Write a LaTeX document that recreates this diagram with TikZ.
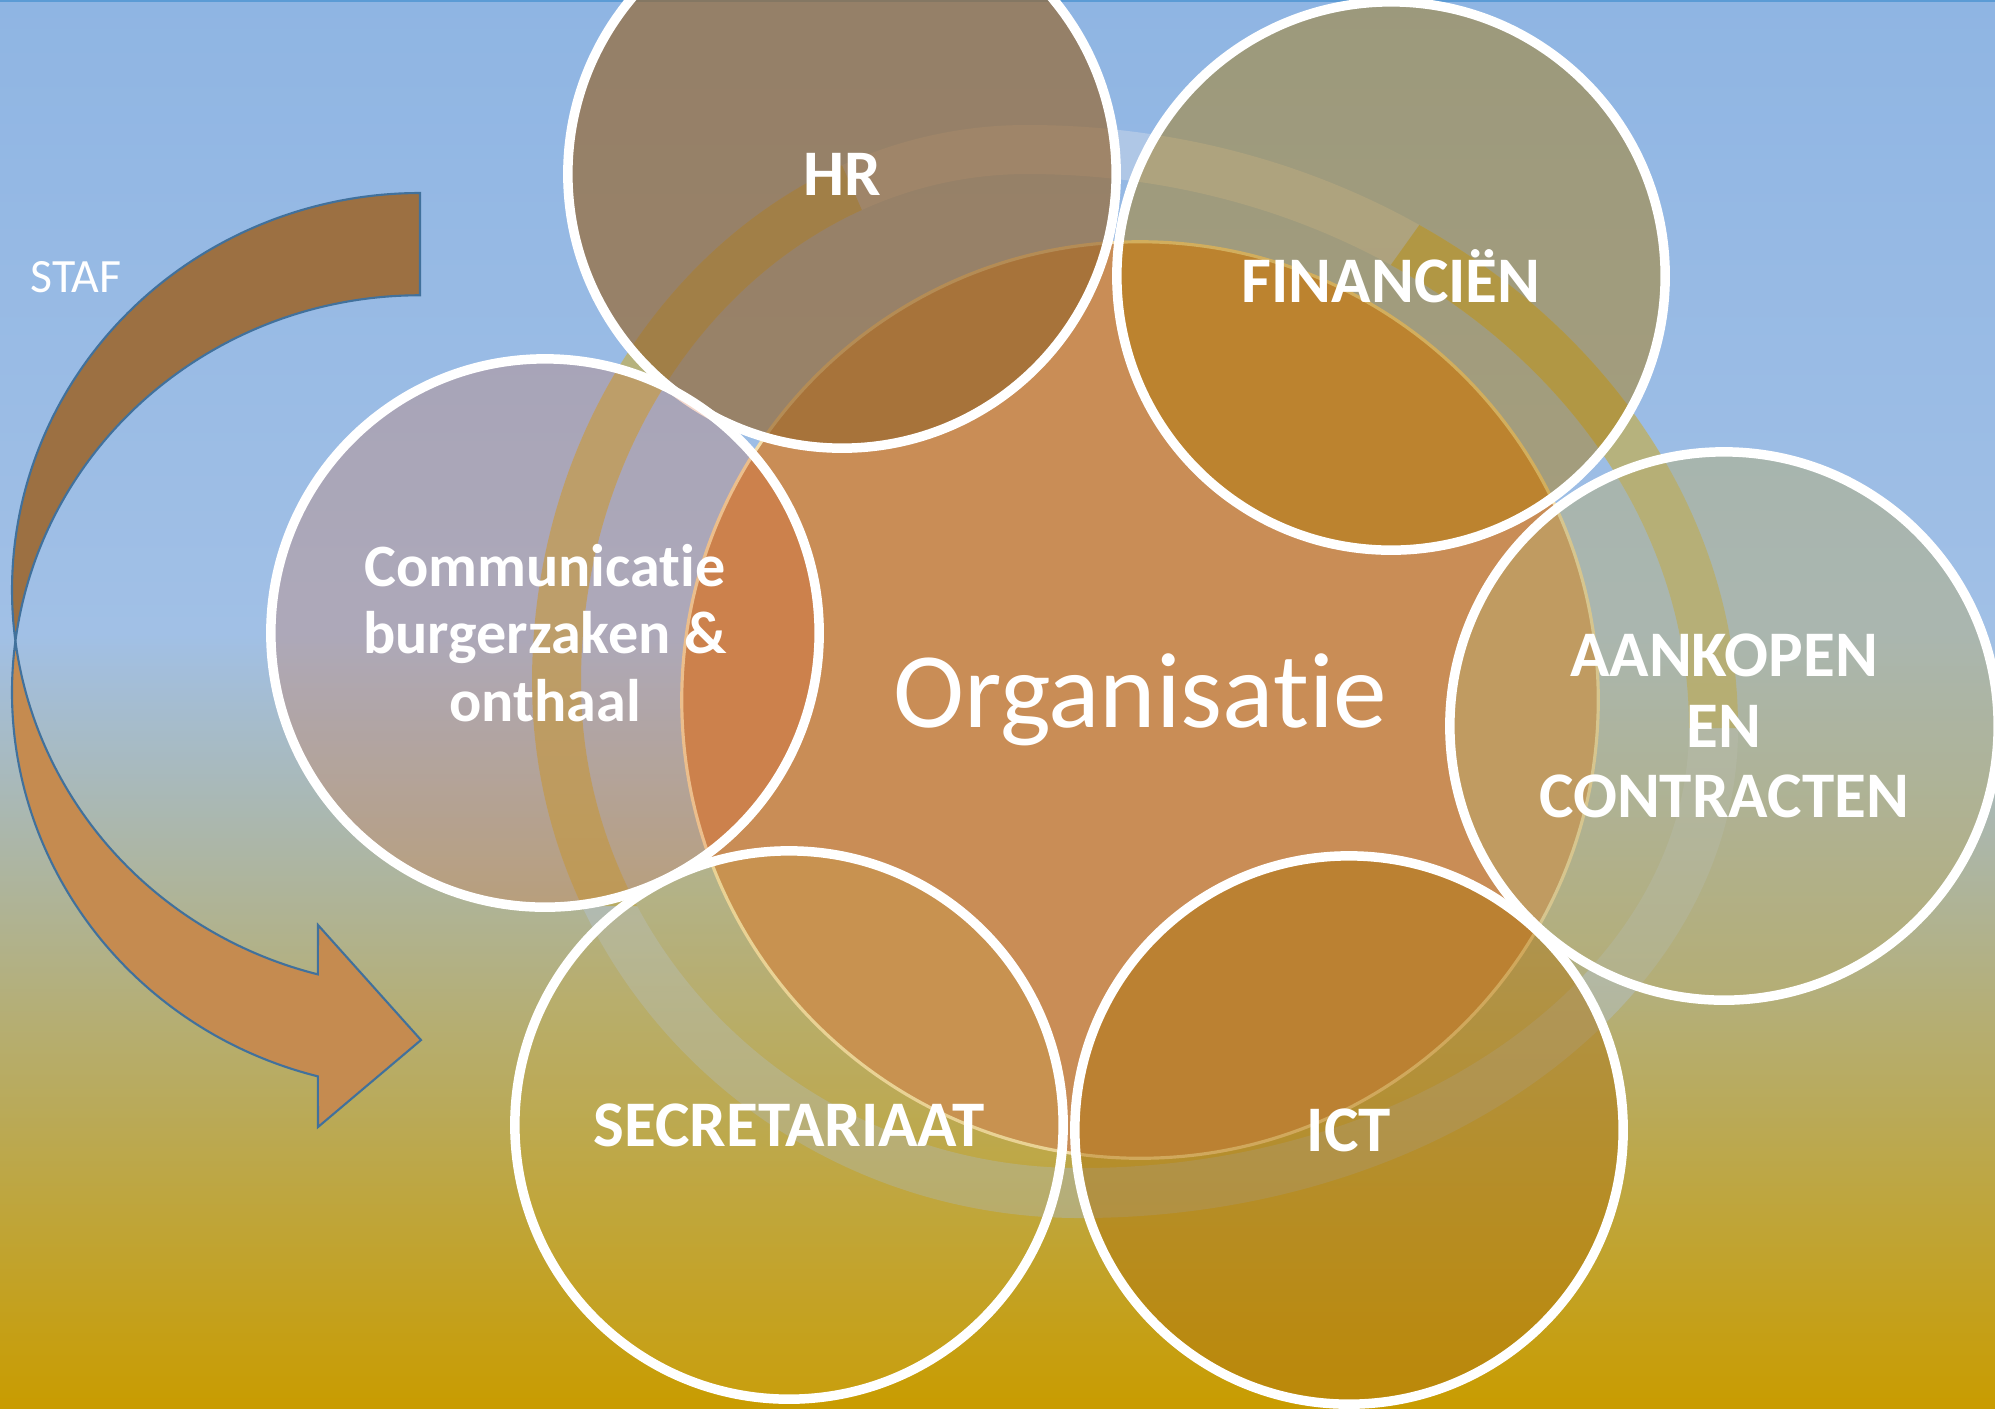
\documentclass[tikz,border=0pt]{standalone}
\usepackage{fontspec}
\setmainfont{Carlito}[Ligatures=NoCommon]
\definecolor{bgTop}{RGB}{143,181,227}
\definecolor{bgMid}{RGB}{161,192,230}
\definecolor{bgGold}{RGB}{201,156,0}
\definecolor{topLine}{RGB}{91,155,213}
\definecolor{stafDark}{RGB}{156,112,66}
\definecolor{stafLight}{RGB}{197,139,80}
\definecolor{stafLine}{RGB}{65,113,156}
\definecolor{orgFill}{RGB}{201,141,86}
\definecolor{orgLine}{RGB}{242,220,170}
\definecolor{ringGold}{RGB}{190,160,30}
\definecolor{ringTop}{RGB}{230,230,235}
\definecolor{ringBot}{RGB}{165,190,230}
\definecolor{hrFill}{RGB}{152,103,46}
\definecolor{finFill}{RGB}{173,120,0}
\definecolor{aankFill}{RGB}{182,172,111}
\definecolor{ictFill}{RGB}{175,118,15}
\definecolor{secrFill}{RGB}{200,170,60}
\definecolor{commFill}{RGB}{215,95,45}
\pgfdeclareverticalshading{slidebg}{100bp}{color(0bp)=(bgGold); color(25bp)=(bgGold);
  color(52.5bp)=(bgMid); color(75bp)=(bgTop); color(100bp)=(bgTop)}
\newcommand\ringpath{(1027,125) .. controls (1420,125) and (1738,395) .. (1738,728)
  .. controls (1738,999) and (1443,1218) .. (1080,1218)
  .. controls (777,1218) and (532,978) .. (532,682)
  .. controls (532,374) and (754,125) .. (1027,125) -- cycle
  (1027,174) .. controls (1393,174) and (1689,422) .. (1689,728)
  .. controls (1689,971) and (1416,1168) .. (1080,1168)
  .. controls (804,1168) and (581,950) .. (581,682)
  .. controls (581,401) and (781,174) .. (1027,174) -- cycle}
\begin{document}
\begin{tikzpicture}[x=0.01cm, y=-0.01cm,
  dept/.style={circle, draw=white, line width=2.7pt, minimum size=5.48cm,
    inner sep=0pt, text=white, text opacity=1, align=center,
    font=\bfseries\fontsize{18.5}{20.1}\selectfont},
  org/.style={circle, fill=orgFill, draw=orgLine, line width=0.9pt,
    minimum size=9.16cm, inner sep=0pt, text=white,
    font=\fontsize{30.5}{36}\selectfont},
  stafback/.style={fill=stafDark, draw=stafLine, line width=0.6pt},
  staffront/.style={fill=stafLight, draw=stafLine, line width=0.6pt}
]
\useasboundingbox (0,0) rectangle (1995,1408);
\shade[shading=slidebg] (0,0) rectangle (1995,1408);
\draw[topLine, line width=0.6pt] (0,1) -- (1995,1);

\filldraw[stafback] (420,193)
  arc[start angle=270, end angle=172.6, x radius=408, y radius=397]
  arc[start angle=187.4, end angle=270, x radius=408, y radius=397] -- cycle;
\filldraw[staffront] ([shift={(420,692)}]187.4:408 and 397)
  arc[start angle=187.4, end angle=104.5, x radius=408, y radius=397]
  -- (318,1127) -- (421,1040) -- (318,925)
  -- ([shift={(420,590)}]104.5:408 and 397)
  arc[start angle=104.5, end angle=172.6, x radius=408, y radius=397] -- cycle;
\node[text=white, font=\fontsize{13.6}{15}\selectfont] (staf) at (76,277) {STAF};

\shade[top color=ringTop, bottom color=ringBot, fill opacity=0.35, even odd rule] \ringpath;
\begin{scope}
  \clip (1080,700) -- (1980,-560) -- (2600,-560) -- (2600,728) -- (1080,728) -- cycle
    (1080,700) -- (399,-830) -- (-600,-830) -- (-600,906) -- (1080,906) -- cycle;
  \fill[ringGold, fill opacity=0.52, even odd rule] \ringpath;
\end{scope}

\node[org] (organisatie) at (1140,700) {Organisatie};
\node[dept, fill=hrFill, fill opacity=0.68] (hr) at (842,174) {HR};
\node[dept, fill=finFill, fill opacity=0.45] (financien) at (1391,276) {FINANCIËN};
\node[dept, fill=aankFill, fill opacity=0.46] (aankopen) at (1724,726) {AANKOPEN\\EN\\CONTRACTEN};
\node[dept, fill=ictFill, fill opacity=0.5] (ict) at (1349,1130) {ICT};
\node[dept, fill=secrFill, fill opacity=0.2] (secretariaat) at (789,1125) {SECRETARIAAT};
\node[dept, fill=commFill, fill opacity=0.24,
  font=\bfseries\fontsize{17.1}{19.3}\selectfont] (communicatie) at (545,633)
  {Communicatie\\burgerzaken \&\\onthaal};
\end{tikzpicture}
\end{document}
